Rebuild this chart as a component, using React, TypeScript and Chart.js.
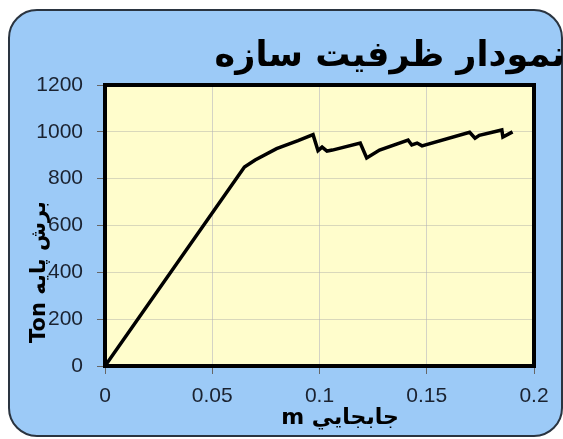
import React, { useEffect, useRef } from "react";
import { Chart, registerables } from "chart.js";

Chart.register(...registerables);

const titleText = "نمودار ظرفیت سازه";
const yAxisTitle = "Ton برش پایه";
const xAxisTitle = "m جابجايي";

const dispX = [0, 0.065, 0.07, 0.08, 0.09, 0.097, 0.0993, 0.1012, 0.1035, 0.106, 0.119, 0.122, 0.128, 0.1413, 0.143, 0.1455, 0.1478, 0.17, 0.1725, 0.1745, 0.185, 0.1855, 0.19];
const shearY = [0, 850, 880, 928, 962, 988, 920, 935, 918, 922, 952, 888, 922, 965, 944, 952, 940, 998, 973, 985, 1008, 978, 1000];

const xTicks = [0, 0.05, 0.1, 0.15, 0.2];
const yTicks = [0, 200, 400, 600, 800, 1000, 1200];

const CHART_LEFT = 105;
const CHART_RIGHT = 534;
const CHART_TOP = 85;
const CHART_BOTTOM = 366;
const W = 563;
const H = 439;

const decor = {
  id: "decor",
  beforeDraw(chart: any) {
    const ctx = chart.ctx;
    const a = chart.chartArea;
    ctx.save();
    const x0 = 9, y0 = 10, x1 = 562, y1 = 436, r = 28;
    ctx.beginPath();
    ctx.moveTo(x0 + r, y0);
    ctx.lineTo(x1 - r, y0);
    ctx.arcTo(x1, y0, x1, y0 + r, r);
    ctx.lineTo(x1, y1 - r);
    ctx.arcTo(x1, y1, x1 - r, y1, r);
    ctx.lineTo(x0 + r, y1);
    ctx.arcTo(x0, y1, x0, y1 - r, r);
    ctx.lineTo(x0, y0 + r);
    ctx.arcTo(x0, y0, x0 + r, y0, r);
    ctx.closePath();
    ctx.fillStyle = "#9ccaf7";
    ctx.fill();
    ctx.lineWidth = 2;
    ctx.strokeStyle = "#2a3440";
    ctx.stroke();
    ctx.fillStyle = "#fffdcc";
    ctx.fillRect(a.left, a.top, a.right - a.left, a.bottom - a.top);
    ctx.restore();
  },
  afterDraw(chart: any) {
    const ctx = chart.ctx;
    const a = chart.chartArea;
    ctx.save();
    ctx.lineWidth = 4;
    ctx.strokeStyle = "#000";
    ctx.strokeRect(a.left, a.top, a.right - a.left, a.bottom - a.top);
    ctx.fillStyle = "#000";
    ctx.textAlign = "right";
    ctx.textBaseline = "alphabetic";
    ctx.font = "bold 35px 'DejaVu Sans'";
    ctx.fillText(titleText, 565, 66);
    ctx.textAlign = "center";
    ctx.font = "bold 22px 'DejaVu Sans'";
    ctx.fillText(xAxisTitle, 340, 424);
    ctx.translate(40, 272);
    ctx.rotate(-Math.PI / 2);
    ctx.font = "bold 21px 'DejaVu Sans'";
    ctx.textBaseline = "middle";
    ctx.fillText(yAxisTitle, 0, 0);
    ctx.restore();
  },
};

export default function App() {
  const ref = useRef<HTMLCanvasElement | null>(null);
  useEffect(() => {
    if (!ref.current) return;
    const chart = new Chart(ref.current, {
      type: "line",
      data: {
        datasets: [
          {
            data: dispX.map((x, i) => ({ x, y: shearY[i] })),
            borderColor: "#000",
            borderWidth: 3.5,
            pointRadius: 0,
            tension: 0,
            fill: false,
          },
        ],
      },
      options: {
        animation: false,
        responsive: false,
        devicePixelRatio: 1,
        layout: { padding: { left: 0, top: CHART_TOP, right: W - CHART_RIGHT, bottom: 0 } },
        plugins: { legend: { display: false }, tooltip: { enabled: false }, title: { display: false } },
        scales: {
          x: {
            type: "linear",
            min: 0,
            max: 0.2,
            afterBuildTicks: (s: any) => {
              s.ticks = xTicks.map((v) => ({ value: v }));
            },
            afterFit: (s: any) => {
              s.height = H - CHART_BOTTOM;
            },
            grid: { color: "rgba(170,170,190,0.5)", lineWidth: 1, tickLength: 8, tickColor: "#666", drawTicks: true },
            border: { display: false },
            ticks: {
              color: "#1a2230",
              font: { family: "'Liberation Sans', Arial", size: 21 },
              padding: 10,
              maxRotation: 0,
              callback: (v: any) => String(v),
            },
          },
          y: {
            type: "linear",
            min: 0,
            max: 1200,
            afterBuildTicks: (s: any) => {
              s.ticks = yTicks.map((v) => ({ value: v }));
            },
            afterFit: (s: any) => {
              s.width = CHART_LEFT;
            },
            grid: { color: "rgba(180,180,170,0.5)", lineWidth: 1, tickLength: 8, tickColor: "#666", drawTicks: true },
            border: { display: false },
            ticks: {
              color: "#1a2230",
              font: { family: "'Liberation Sans', Arial", size: 21 },
              padding: 14,
              callback: (v: any) => String(v),
            },
          },
        },
      },
      plugins: [decor],
    });
    return () => chart.destroy();
  }, []);
  return (
    <div style={{ position: "fixed", left: 0, top: 0, width: W, height: H, background: "#fff" }}>
      <canvas ref={ref} width={W} height={H} style={{ width: W, height: H, display: "block" }} />
    </div>
  );
}
